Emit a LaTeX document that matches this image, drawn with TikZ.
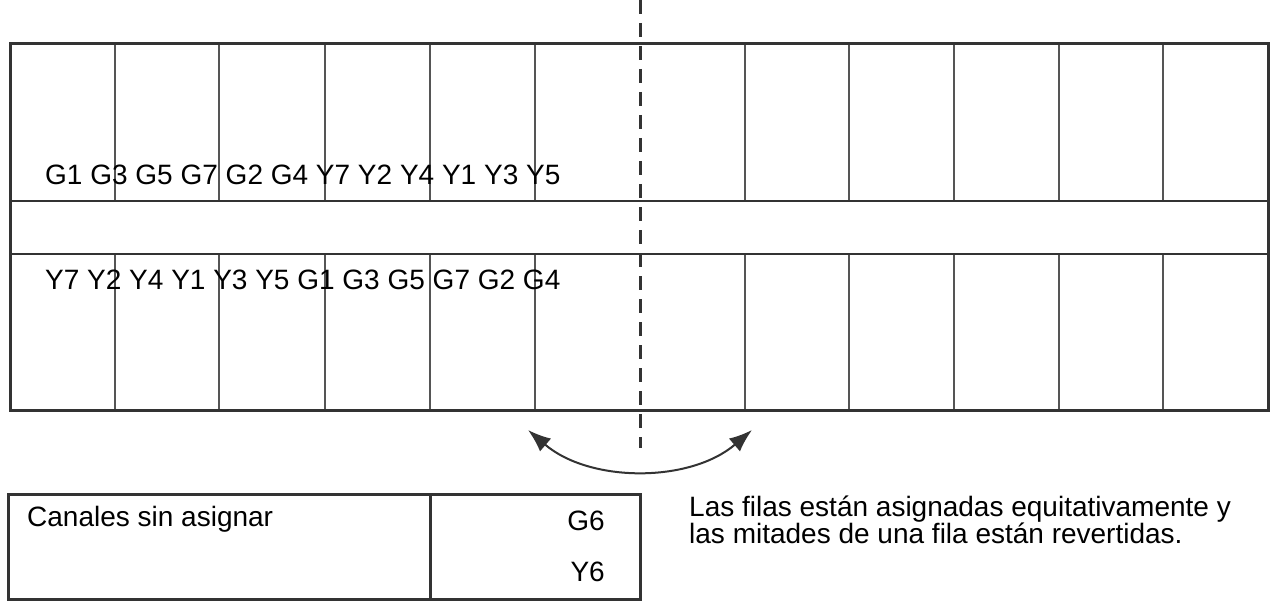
\documentclass[tikz,border=0pt]{standalone}
\usepackage{fontspec}
\setmainfont{Liberation Sans}
\usetikzlibrary{arrows.meta}
\definecolor{trazo}{HTML}{333333}
\definecolor{rejgris}{HTML}{555555}
\newcommand{\letra}{\fontsize{28}{27}\selectfont}
\newcommand{\divcol}[1]{\draw[rejilla] (#1,44)--(#1,201) (#1,254)--(#1,410);}
\tikzset{
  rejilla/.style={rejgris,line width=2pt},
  borde/.style={trazo,line width=3pt},
  rotulo/.style={inner sep=0pt,font=\letra}
}

\begin{document}
\begin{tikzpicture}[x=1pt,y=-1pt]
  \useasboundingbox (0,0) rectangle (1276,604);

  % columnas de la fila
  \divcol{115} \divcol{219} \divcol{325} \divcol{430} \divcol{535}
  \divcol{745} \divcol{849} \divcol{954} \divcol{1059} \divcol{1163}

  % marco y pasillo central
  \draw[borde] (10,44) rectangle (1268,410);
  \draw[borde,line width=2.5pt] (10,201)--(1268,201);
  \draw[borde,line width=2.5pt] (10,254)--(1268,254);

  % eje de simetria
  \draw[trazo,line width=3pt,dash pattern=on 14pt off 9pt] (640,0)--(640,448);

  % asignacion de canales
  \node[rotulo,anchor=west] (filasup) at (45,175) {G1 G3 G5 G7 G2 G4 Y7 Y2 Y4 Y1 Y3 Y5};
  \node[rotulo,anchor=west] (filainf) at (45,280) {Y7 Y2 Y4 Y1 Y3 Y5 G1 G3 G5 G7 G2 G4};

  % mitades revertidas
  \coordinate (izq) at (528,430);
  \coordinate (der) at (752,430);
  \draw[trazo,line width=2pt,{Latex[length=23pt,width=17pt]}-{Latex[length=23pt,width=17pt]}]
    (izq) .. controls (590,483) and (690,483) .. (der);

  % canales sin asignar
  \draw[borde] (8,494) rectangle (640,599);
  \draw[borde] (430,494)--(430,599);
  \node[rotulo,anchor=west] (sinasig) at (27,519) {Canales sin asignar};
  \node[rotulo,anchor=east] (gseis) at (605,521) {G6};
  \node[rotulo,anchor=east] (yseis) at (605,572) {Y6};

  % nota
  \node[rotulo,anchor=west,align=left] (nota) at (689,520)
    {Las filas están asignadas equitativamente y\\las mitades de una fila están revertidas.};
\end{tikzpicture}
\end{document}
